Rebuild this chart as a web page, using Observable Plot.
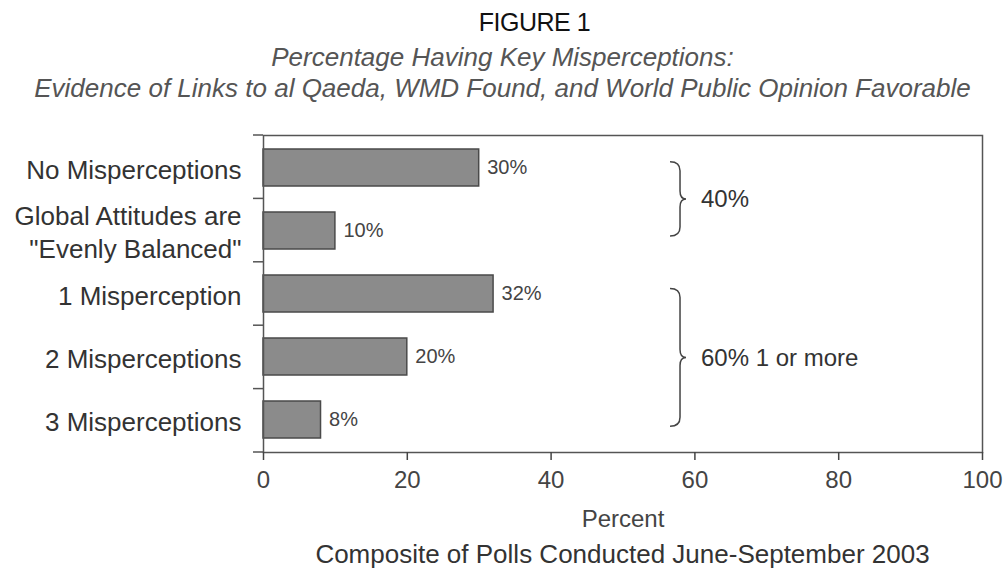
<!DOCTYPE html>
<html>
<head>
<meta charset="utf-8">
<script src="https://cdn.jsdelivr.net/npm/d3@7"></script>
<script src="https://cdn.jsdelivr.net/npm/@observablehq/plot@0.6"></script>
<style>
  html, body { margin: 0; padding: 0; background: #fff; }
  #page { position: relative; width: 1005px; height: 576px; overflow: hidden; font-family: "Liberation Sans", Arial, Helvetica, sans-serif; }
  .ln { position: absolute; left: 0; width: 1005px; text-align: center; white-space: nowrap; }
  #title { top: 10px; font-size: 25px; line-height: 25px; color: #111; padding-left: 64px; box-sizing: border-box; letter-spacing: -0.5px; }
  #sub1 { top: 44px; font-size: 26px; line-height: 26px; color: #555; font-style: italic; }
  #sub2 { top: 75px; font-size: 26px; line-height: 26px; color: #555; font-style: italic; }
  #chart { position: absolute; left: 0; top: 110px; }
  #caption { top: 541px; font-size: 26px; line-height: 26px; color: #333; padding-left: 240px; box-sizing: border-box; }
</style>
</head>
<body>
<div id="page">
  <div class="ln" id="title">FIGURE 1</div>
  <div class="ln" id="sub1">Percentage Having Key Misperceptions:</div>
  <div class="ln" id="sub2">Evidence of Links to al Qaeda, WMD Found, and World Public Opinion Favorable</div>
  <div id="chart"></div>
  <div class="ln" id="caption">Composite of Polls Conducted June-September 2003</div>
</div>
<script>
// ---- data ----
const categories = [
  "No Misperceptions",
  "Global Attitudes are\n\"Evenly Balanced\"",
  "1 Misperception",
  "2 Misperceptions",
  "3 Misperceptions"
];
const values = [30, 10, 32, 20, 8];
const xTicks = [0, 20, 40, 60, 80, 100];
const braceFrom = ["No Misperceptions", "1 Misperception"];
const braceTo = ["Global Attitudes are\n\"Evenly Balanced\"", "3 Misperceptions"];
const braceLabels = ["40%", "60% 1 or more"];
const braceX = 58;

const data = categories.map((c, i) => ({category: c, value: values[i]}));

const plot = Plot.plot({
  width: 1005,
  height: 425,
  marginLeft: 263,
  marginRight: 23,
  marginTop: 25,
  marginBottom: 83,
  style: {fontFamily: "'Liberation Sans', Arial, Helvetica, sans-serif", background: "white", color: "#333"},
  x: {domain: [0, 100]},
  y: {domain: categories, paddingInner: 0.42, paddingOuter: 0.21},
  marks: [
    Plot.barX(data, {x: "value", y: "category", fill: "#8b8b8b", stroke: "#4a4a4a", strokeWidth: 1.5}),
    Plot.text(data, {x: "value", y: "category", text: d => d.value + "%", textAnchor: "start", dx: 8, fontSize: 20, fill: "#444"}),
    Plot.frame({stroke: "#555", strokeWidth: 1.5}),
    Plot.axisX({ticks: xTicks, tickSize: 8, tickPadding: 10, fontSize: 24, stroke: "#444", strokeWidth: 1.5, fill: "#444",
      label: "Percent", labelAnchor: "center", labelArrow: false, labelOffset: 74}),
    Plot.axisY({tickSize: 0, tickPadding: 22, fontSize: 26, lineHeight: 1.27, fill: "#333", label: null})
  ]
});
document.getElementById("chart").appendChild(plot);

// ---- extra marks drawn from the plot's own scales ----
const sx = plot.scale("x"), sy = plot.scale("y");
const x = d3.scaleLinear().domain(sx.domain).range(sx.range);
const y = d3.scaleBand().domain(sy.domain).range(sy.range)
  .paddingInner(sy.paddingInner ?? 0.42).paddingOuter(sy.paddingOuter ?? 0.21).align(sy.align ?? 0.5);
const svg = d3.select(plot.tagName.toLowerCase() === "svg" ? plot : plot.querySelector("svg"));
const bw = y.bandwidth(), step = y.step();
const yc = c => y(c) + bw / 2;

// band-boundary tick marks on the y axis
const bounds = categories.map(c => yc(c) - step / 2).concat([yc(categories[categories.length - 1]) + step / 2]);
svg.append("g").attr("stroke", "#555").attr("stroke-width", 1.5)
  .selectAll("line").data(bounds).join("line")
  .attr("x1", x(0) - 10).attr("x2", x(0)).attr("y1", d => d).attr("y2", d => d);

// braces
const g = svg.append("g");
braceLabels.forEach((lab, i) => {
  const xb = x(braceX);
  const y1 = yc(braceFrom[i]) - 5, y2 = yc(braceTo[i]) + 6, ym = (y1 + y2) / 2;
  g.append("path")
    .attr("d", `M${xb - 10},${y1} Q${xb},${y1} ${xb},${y1 + 9} L${xb},${ym - 8} Q${xb},${ym} ${xb + 6},${ym} Q${xb},${ym} ${xb},${ym + 8} L${xb},${y2 - 9} Q${xb},${y2} ${xb - 10},${y2}`)
    .attr("fill", "none").attr("stroke", "#444").attr("stroke-width", 1.5);
  g.append("text").attr("x", xb + 21).attr("y", ym).attr("dy", "0.35em")
    .attr("text-anchor", "start").attr("font-size", 24).attr("fill", "#333").text(lab);
});
</script>
</body>
</html>
